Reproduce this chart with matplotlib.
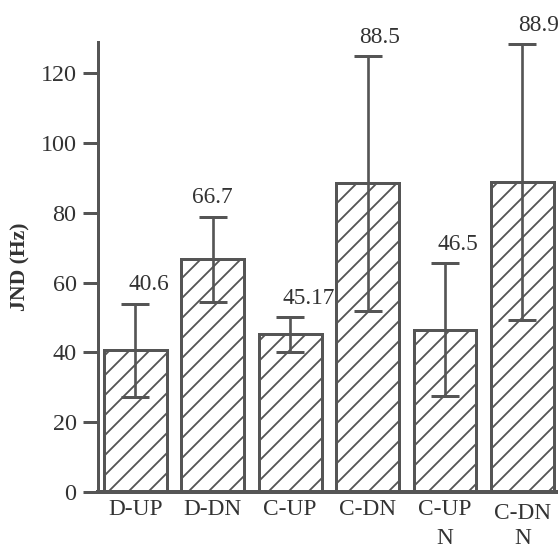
import matplotlib.pyplot as plt
from matplotlib.transforms import ScaledTranslation
import numpy as np

# data
conditions = ['D-UP', 'D-DN', 'C-UP', 'C-DN', 'C-UP\nN', 'C-DN\nN']
jnd = [40.6, 66.7, 45.17, 88.5, 46.5, 88.9]
jnd_err = [13.4, 12.2, 5.0, 36.5, 19.0, 39.5]
value_labels = ['40.6', '66.7', '45.17', '88.5', '46.5', '88.9']
label_dx = [8, 0, 11, 7, 8, 10]   # label offsets in points

plt.rcParams['font.family'] = ['Liberation Serif', 'DejaVu Serif']
plt.rcParams['hatch.linewidth'] = 1.1
edge = '#555555'
txt = '#333333'

fig = plt.figure(figsize=(558 / 120, 551 / 120), dpi=120)
ax = fig.add_axes([0.176, 0.107, 0.824, 0.817])

x = np.arange(len(conditions))
ax.bar(x, jnd, width=0.81, color='white', edgecolor=edge, linewidth=1.8,
       hatch='//', zorder=2)
ax.errorbar(x, jnd, yerr=jnd_err, fmt='none', ecolor=edge, elinewidth=1.6,
            capsize=8.5, capthick=1.8, zorder=3)

for xi, v, e, lab, dx in zip(x, jnd, jnd_err, value_labels, label_dx):
    ax.annotate(lab, (xi, v + e), xytext=(dx, 8), textcoords='offset points',
                ha='center', va='baseline', fontsize=14, color=txt)

ax.set_xlim(-0.48, 5.46)
ax.set_ylim(0, 129)
ax.set_yticks([0, 20, 40, 60, 80, 100, 120])
ax.set_xticks(x)
ax.set_xticklabels(conditions, linespacing=1.5)
ax.tick_params(axis='y', direction='out', length=9, width=1.8, color=edge,
               labelsize=14.5, labelcolor=txt, pad=4)
ax.tick_params(axis='x', length=0, labelsize=14, labelcolor=txt, pad=4)

# last label sits a bit lower in the original
lbl = ax.get_xticklabels()[-1]
lbl.set_linespacing(1.25)
lbl.set_transform(lbl.get_transform() + ScaledTranslation(0, -4 / 120, fig.dpi_scale_trans))

ax.set_ylabel('JND (Hz)', fontsize=13, fontweight='bold', color=txt, labelpad=6)

for side in ['top', 'right']:
    ax.spines[side].set_visible(False)
ax.spines['left'].set_color(edge)
ax.spines['left'].set_linewidth(1.8)
ax.spines['bottom'].set_color(edge)
ax.spines['bottom'].set_linewidth(2.4)

plt.savefig('out.png', dpi=120)
plt.close()
